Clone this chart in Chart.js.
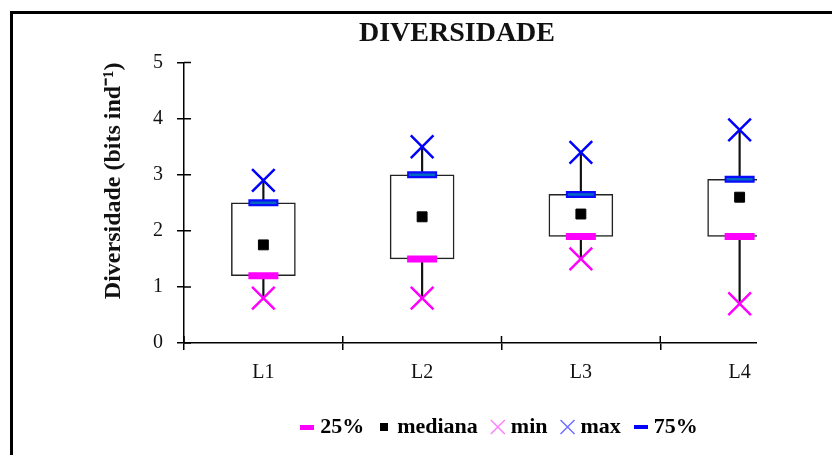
<!DOCTYPE html>
<html>
<head>
<meta charset="utf-8">
<title>Diversidade</title>
<script src="https://cdn.jsdelivr.net/npm/chart.js@4.4.1/dist/chart.umd.min.js"></script>
<style>
  html, body { margin: 0; padding: 0; background: #fff; overflow: hidden; }
  #frame { position: absolute; left: 10px; top: 11px; width: 900px; height: 500px;
           border-left: 3px solid #000; border-top: 3px solid #000; }
  #wrap { position: absolute; left: 0; top: 0; width: 930px; height: 455px; }
</style>
</head>
<body>
<div id="frame"></div>
<div id="wrap"><canvas id="chart" width="930" height="455"></canvas></div>
<script>
// ----- data -----
const labels     = ['L1', 'L2', 'L3', 'L4'];
const minVals    = [0.8, 0.8, 1.5, 0.7];
const q1Vals     = [1.2, 1.5, 1.9, 1.9];
const medianVals = [1.75, 2.25, 2.3, 2.6];
const q3Vals     = [2.5, 3.0, 2.65, 2.92];
const maxVals    = [2.9, 3.5, 3.4, 3.8];
const yTicks     = [0, 1, 2, 3, 4, 5];

const SERIF = "'Liberation Serif', 'Times New Roman', serif";
const CLIP_X = 757; // the plot is cut off on the right from here

// small canvas swatches for legend markers
function swatch(w, h, color) {
  const c = document.createElement('canvas');
  c.width = w; c.height = h;
  const g = c.getContext('2d');
  g.fillStyle = color;
  g.fillRect(0, 0, w, h);
  return c;
}
const dashMagenta = swatch(14, 5, '#ff00ff');
const dashBlue    = swatch(14, 4, '#0000ff');
const blackSquare = swatch(8, 8, '#000');

// ticks that cross the axes + white-out past the cut
const axisCross = {
  id: 'axisCross',
  afterDraw(chart) {
    const { ctx, chartArea, scales: { x, y } } = chart;
    ctx.save();
    ctx.strokeStyle = '#000';
    ctx.lineWidth = 1.5;
    ctx.beginPath();
    y.ticks.forEach(t => {
      const py = y.getPixelForValue(t.value);
      ctx.moveTo(chartArea.left, py);
      ctx.lineTo(chartArea.left + 7, py);
    });
    for (let i = 0; i <= labels.length; i++) {
      const px = x.getPixelForValue(i - 0.5);
      ctx.moveTo(px, chartArea.bottom);
      ctx.lineTo(px, chartArea.bottom - 7);
    }
    ctx.stroke();
    ctx.fillStyle = '#fff';
    ctx.fillRect(CLIP_X, chartArea.top - 30, chart.width - CLIP_X, chartArea.bottom - chartArea.top + 40);
    ctx.restore();
  }
};

const marker = (label, data, style, radius, width, color, order, fill) => ({
  type: 'line', label, data, order,
  showLine: false,
  pointStyle: style,
  pointRadius: radius,
  pointHoverRadius: radius,
  pointBorderWidth: width,
  pointBorderColor: color,
  pointBackgroundColor: fill || color
});

new Chart(document.getElementById('chart'), {
  type: 'bar',
  data: {
    labels,
    datasets: [
      { label: 'whisker', data: labels.map((_, i) => [minVals[i], maxVals[i]]),
        backgroundColor: '#111', barThickness: 1.5, grouped: false, order: 6 },
      { label: 'box', data: labels.map((_, i) => [q1Vals[i], q3Vals[i]]),
        backgroundColor: '#fff', borderColor: '#222', borderWidth: 1.5,
        borderSkipped: false, barThickness: 64, grouped: false, order: 5 },
      marker('25%', q1Vals, 'line', 15, 7, '#ff00ff', 4),
      marker('75%', q3Vals, 'line', 15, 7, '#0a0aff', 3),
      marker('75% in', q3Vals, 'line', 13, 2.5, '#0068c0', 2),
      marker('mediana', medianVals, 'rect', 7, 1, '#000', 1),
      marker('min', minVals, 'crossRot', 16, 2.5, '#ff00ff', 0),
      marker('max', maxVals, 'crossRot', 16, 2.5, '#0000ff', 0)
    ]
  },
  options: {
    responsive: false,
    devicePixelRatio: 1,
    animation: false,
    layout: { padding: { left: 95, right: 111, top: 0, bottom: 7 } },
    plugins: {
      tooltip: { enabled: false },
      title: {
        display: true, text: 'DIVERSIDADE', color: '#111',
        font: { family: SERIF, size: 28, weight: 'bold' },
        padding: { top: 17, bottom: 12 }
      },
      legend: {
        position: 'bottom',
        fullSize: false,
        labels: {
          usePointStyle: true,
          boxWidth: 4,
          boxHeight: 14,
          padding: 18,
          color: '#111',
          font: { family: SERIF, size: 22, weight: 'bold' },
          generateLabels: () => [
            { text: '25%', pointStyle: dashMagenta, lineWidth: 0 },
            { text: 'mediana', pointStyle: blackSquare, lineWidth: 0 },
            { text: 'min', pointStyle: 'crossRot', strokeStyle: '#ff80ff', fillStyle: '#ff80ff', lineWidth: 1.5 },
            { text: 'max', pointStyle: 'crossRot', strokeStyle: '#7070ff', fillStyle: '#7070ff', lineWidth: 1.5 },
            { text: '75%', pointStyle: dashBlue, lineWidth: 0 }
          ]
        }
      }
    },
    scales: {
      x: {
        type: 'category',
        offset: true,
        afterFit: s => { s.height = 55; },
        grid: { offset: true, drawOnChartArea: false, tickLength: 7, color: '#000', lineWidth: 1.5 },
        border: { color: '#000', width: 1.5 },
        ticks: { color: '#111', padding: 11, font: { family: SERIF, size: 20 } }
      },
      y: {
        min: 0, max: 5,
        afterBuildTicks: s => { s.ticks = yTicks.map(v => ({ value: v })); },
        afterFit: s => { s.width = 89; },
        grid: { drawOnChartArea: false, tickLength: 7, color: '#000', lineWidth: 1.5 },
        border: { color: '#000', width: 1.5 },
        ticks: { color: '#111', padding: 14, font: { family: SERIF, size: 20 } },
        title: {
          display: true, align: 'end',
          text: 'Diversidade (bits ind\u207B\u00B9)',
          color: '#111',
          font: { family: SERIF, size: 24, weight: 'bold' },
          padding: { top: 4, bottom: 4 }
        }
      }
    }
  },
  plugins: [axisCross]
});
</script>
</body>
</html>
